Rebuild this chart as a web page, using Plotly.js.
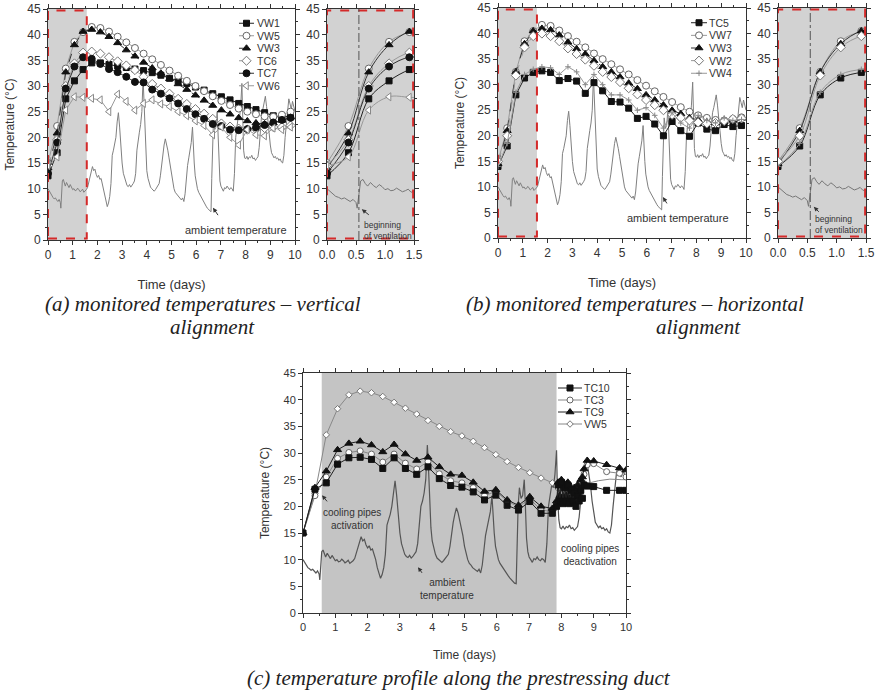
<!DOCTYPE html>
<html><head><meta charset="utf-8">
<script src="https://cdn.plot.ly/plotly-3.0.1.min.js"></script>
<style>html,body{margin:0;padding:0;background:#fff}#chart{width:877px;height:694px}</style>
</head><body><div id="chart"></div>
<script>
// ---------- DATA ----------
const tA = [0, 0.37, 0.72, 1.07, 1.42, 1.77, 2.12, 2.47, 2.82, 3.17, 3.52, 3.87, 4.22, 4.57, 4.92, 5.27, 5.62, 5.97, 6.32, 6.67, 7.02, 7.37, 7.72, 8.07, 8.42, 8.77, 9.12, 9.47, 9.82];
// panel (a)
const VW1 = [12.5, 17, 27.5, 31, 33.2, 34.5, 34.5, 34.2, 33.9, 33.6, 33.3, 33.0, 32.6, 32.1, 31.5, 31.0, 30.5, 29.8, 29.2, 28.5, 27.9, 27.3, 26.6, 26.0, 25.4, 24.8, 24.2, 23.8, 24.3];
const VW5 = [15, 22.2, 33.4, 38.6, 40.5, 41.5, 41.3, 40.6, 39.6, 38.5, 37.4, 36.3, 35.2, 34.1, 33.0, 32.0, 31.0, 30.0, 29.0, 28.0, 27.1, 26.3, 25.6, 25.0, 24.5, 24.1, 24.0, 24.4, 25.0];
const VW3 = [14, 20.8, 32.7, 38, 40.6, 41.0, 40.5, 39.6, 38.4, 37.0, 35.8, 34.6, 33.5, 32.5, 31.4, 30.4, 29.3, 28.2, 27.2, 26.2, 25.3, 24.5, 23.8, 23.2, 22.8, 22.6, 22.8, 23.3, 23.9];
const TC6 = [14.5, 19.5, 30.0, 34.4, 36.5, 36.7, 36.3, 35.6, 34.8, 34.0, 33.1, 31.8, 30.4, 29.5, 28.5, 27.5, 26.5, 25.5, 24.6, 23.6, 22.7, 22.1, 21.7, 21.5, 21.6, 21.8, 22.0, 22.0, 22.3];
const TC7 = [13, 19, 29.5, 33.8, 35.6, 35.3, 34.3, 33.3, 32.7, 31.8, 30.8, 30.7, 29.3, 28.5, 27.6, 26.6, 25.5, 24.5, 23.6, 22.6, 22.2, 21.5, 21.4, 21.6, 21.9, 22.4, 22.9, 23.4, 23.8];
const VW6 = [14.5, 16.2, 25.3, 27.9, 27.8, 27.6, 27.3, 25.0, 28.4, 27.0, 25.3, 26.6, 27.3, 26.5, 26.0, 25.0, 24.2, 23.2, 22.3, 20.5, 22.0, 20.0, 18.5, 21.5, 20.5, 20.3, 21.8, 21.5, 22.0];
// panel (b)
const TC5 = [14, 18, 28, 31.3, 32.4, 32.7, 32.4, 30.8, 31.2, 30.7, 28.3, 30.4, 28.8, 26.7, 26.6, 25.4, 23.4, 23.8, 22.3, 20.0, 22.8, 21.0, 19.9, 22.5, 21.3, 21.0, 22.2, 21.8, 22.0];
const VW7 = [15, 21.5, 32.5, 38.5, 40.5, 41.7, 41.5, 40.6, 39.5, 38.4, 37.3, 36.1, 35.0, 34.0, 33.0, 32.0, 30.9, 29.8, 28.7, 27.6, 26.6, 25.6, 24.7, 24.0, 23.5, 23.1, 23.0, 23.3, 23.6];
const VW3b = [14.5, 21, 32.5, 38, 40.5, 41.0, 40.7, 39.7, 38.3, 37.0, 36.0, 34.7, 33.5, 32.5, 31.5, 30.3, 29.2, 28.0, 27.0, 26.0, 25.0, 24.3, 23.5, 23.1, 22.7, 22.5, 22.8, 23.0, 23.4];
const VW2 = [15, 20, 31.8, 37.3, 39.5, 40.0, 39.5, 38.5, 37.1, 36.0, 34.9, 33.7, 32.5, 31.5, 30.5, 29.3, 28.1, 27.0, 26.0, 25.0, 24.1, 23.5, 23.0, 22.6, 22.4, 22.5, 22.9, 23.3, 23.4];
const VW4 = [14, 18.5, 28.5, 32, 33, 33.5, 33.3, 32.0, 33.5, 32.5, 30.0, 32.0, 30.0, 28.0, 28.0, 27.0, 25.0, 25.5, 24.0, 21.5, 24.5, 22.5, 21.5, 24.0, 23.0, 22.5, 23.5, 23.0, 23.2];
// panel (c)
const tC = [0, 0.37, 0.72, 1.07, 1.42, 1.77, 2.12, 2.47, 2.82, 3.17, 3.52, 3.87, 4.22, 4.57, 4.92, 5.27, 5.62, 5.97, 6.32, 6.67, 7.02, 7.37, 7.72];
const tCtail = [7.85, 7.9, 7.95, 8.0, 8.05, 8.1, 8.15, 8.2, 8.25, 8.3, 8.35, 8.4, 8.45, 8.5, 8.55, 8.6, 8.65, 8.7, 8.8, 9.0, 9.4, 9.8, 10.0];
const TC10 = [15, 23.2, 24.4, 27.9, 29.1, 29.2, 28.8, 27.1, 29.1, 27.1, 26.0, 27.4, 25.2, 23.9, 23.6, 22.7, 21.2, 22.1, 20.2, 19.3, 20.9, 18.7, 18.7];
const TC10tail = [20, 24, 21, 24.5, 20.5, 23.5, 21, 24, 20.5, 23, 21, 22.5, 20, 22, 21, 23, 21.5, 24, 23.8, 23.7, 23.0, 23.0, 23.0];
const TC3 = [15, 22.0, 25.5, 29.0, 30.1, 30.4, 29.8, 28.3, 29.8, 28.1, 27.0, 28.4, 26.1, 24.8, 24.4, 23.5, 22.0, 22.8, 21.0, 19.9, 21.4, 19.3, 19.0];
const TC3tail = [20.5, 23.5, 21, 24, 21, 23, 21.5, 23.5, 21, 22.5, 21.5, 22, 21.5, 23, 22.5, 24, 24.5, 26, 27.8, 28, 26.5, 26.2, 25.5];
const TC9 = [15, 23.5, 26.6, 30.6, 31.8, 32.2, 31.5, 30.2, 31.6, 29.8, 28.6, 29.2, 27.4, 26.0, 25.8, 24.5, 22.8, 23.1, 21.2, 20.2, 21.8, 20.0, 19.6];
const TC9tail = [21, 24.5, 22, 25, 21.5, 24, 22, 24.5, 21.5, 23.5, 22, 23.5, 22, 24, 23, 25, 25.5, 27, 28.6, 28.5, 27.8, 27.2, 26.8];
const VW5c = [15, 22.4, 33.4, 38.3, 40.9, 41.6, 41.3, 40.6, 39.5, 38.4, 37.3, 36.1, 35.0, 34.0, 33.2, 32.2, 31.0, 29.7, 28.4, 27.3, 26.3, 25.3, 24.4];
const tVtail = [7.72, 8.1, 8.45, 8.8, 9.15, 9.5, 9.85, 10.0];
const VW5ctail = [24.4, 24.0, 24.0, 24.3, 24.8, 25.1, 25.0, 25.0];
// ambient temperature
const tAmb = [0,0.05,0.1,0.15,0.2,0.25,0.3,0.35,0.4,0.45,0.5,0.52,0.55,0.58,0.62,0.66,0.7,0.75,0.8,0.85,0.9,0.95,1.0,1.05,1.1,1.15,1.2,1.25,1.3,1.35,1.4,1.45,1.5,1.55,1.6,1.65,1.7,1.75,1.8,1.85,1.9,1.95,2.0,2.05,2.1,2.15,2.2,2.25,2.3,2.35,2.4,2.45,2.5,2.55,2.6,2.65,2.7,2.75,2.8,2.85,2.9,2.95,3.0,3.05,3.1,3.15,3.2,3.25,3.3,3.35,3.4,3.45,3.5,3.55,3.6,3.65,3.7,3.75,3.8,3.85,3.88,3.92,3.96,4.0,4.05,4.1,4.15,4.2,4.25,4.3,4.35,4.4,4.45,4.5,4.55,4.6,4.65,4.7,4.75,4.8,4.85,4.9,4.95,5.0,5.05,5.1,5.15,5.2,5.25,5.3,5.35,5.4,5.45,5.5,5.55,5.6,5.65,5.7,5.75,5.8,5.85,5.88,5.92,5.96,6.0,6.05,6.1,6.15,6.2,6.25,6.3,6.35,6.4,6.45,6.5,6.55,6.6,6.63,6.66,6.7,6.75,6.8,6.85,6.88,6.92,6.96,7.0,7.05,7.1,7.15,7.2,7.25,7.3,7.35,7.4,7.45,7.5,7.55,7.6,7.65,7.7,7.75,7.8,7.85,7.88,7.92,7.96,8.0,8.05,8.1,8.15,8.2,8.25,8.3,8.35,8.4,8.45,8.5,8.55,8.6,8.65,8.7,8.75,8.8,8.85,8.9,8.95,9.0,9.05,9.1,9.15,9.2,9.25,9.3,9.35,9.4,9.45,9.5,9.55,9.6,9.65,9.7,9.75,9.8,9.85,9.9,9.95,10.0];
const ambient = [10.0,9.5,9.0,8.5,8.3,8.0,8.2,7.8,7.5,7.9,7.3,6.2,8.5,11.5,11.8,11.0,10.5,11.2,10.6,10.2,10.8,10.4,9.8,10.0,9.6,9.7,10.1,9.8,9.4,9.6,9.9,9.3,9.5,9.8,10.2,11.2,12.5,13.2,14.3,13.5,13.8,12.8,12.2,12.6,11.8,12.0,11.0,10.0,8.5,7.5,6.5,7.2,8.5,11.0,16.5,17.5,18.5,20.0,23.0,24.8,22.0,18.0,15.0,13.0,12.0,11.0,10.6,10.4,10.8,10.3,10.6,11.0,11.5,13.0,17.5,20.0,21.0,22.5,25.0,31.5,28.0,20.0,16.0,13.5,12.0,11.0,10.3,10.0,9.8,9.5,9.8,10.2,10.5,11.0,12.5,15.0,17.0,18.5,19.7,18.8,17.5,16.0,14.5,12.5,11.0,10.0,9.3,9.0,8.5,8.3,8.0,7.8,8.2,7.5,9.0,12.5,14.5,16.0,17.5,19.0,22.0,18.0,15.0,12.5,11.0,10.0,9.3,8.8,8.3,7.8,7.5,7.0,6.6,6.2,5.9,5.6,5.5,12.0,20.0,23.5,21.5,22.0,25.0,21.0,14.0,11.5,10.5,10.0,9.5,10.2,10.0,10.5,10.0,9.8,10.2,10.0,9.5,13.0,20.0,22.0,24.0,23.5,26.0,30.5,22.0,17.5,16.0,15.8,16.3,15.7,16.2,16.0,16.5,15.8,16.0,15.5,15.9,16.2,18.0,22.0,24.5,25.5,27.0,28.0,26.0,24.0,21.0,18.5,17.0,16.5,16.0,16.3,15.8,16.0,15.5,15.8,15.2,15.0,16.5,20.0,23.0,26.0,27.5,26.5,25.5,27.0,26.0,25.0];
// legend labels
const legA = ['VW1','VW5','VW3','TC6','TC7','VW6'];
const legB = ['TC5','VW7','VW3','VW2','VW4'];
const legC = ['TC10','TC3','TC9','VW5'];

// ---------- STYLES ----------
const W = 877, H = 694;
const FONT = 'Liberation Sans, Arial, sans-serif';
const SERIF = 'Liberation Serif, Times New Roman, serif';
const AXC = '#333';
const BLK = {lc:'#222', dash:'solid', sym:'square', mc:'#111', ml:'#111', ms:6};
const ST = {
  VW1: BLK,
  VW5: {lc:'#999', dash:'solid', sym:'circle', mc:'#fff', ml:'#666', ms:7},
  VW3: {lc:'#333', dash:'dash', sym:'triangle-up', mc:'#111', ml:'#111', ms:7},
  TC6: {lc:'#999', dash:'dash', sym:'diamond', mc:'#fff', ml:'#777', ms:7},
  TC7: {lc:'#333', dash:'solid', sym:'circle', mc:'#111', ml:'#111', ms:7},
  VW6: {lc:'#999', dash:'solid', sym:'triangle-left', mc:'#fff', ml:'#888', ms:7},
  TC5: BLK,
  VW7: {lc:'#999', dash:'solid', sym:'circle', mc:'#fff', ml:'#666', ms:7},
  VW2: {lc:'#999', dash:'dash', sym:'diamond', mc:'#fff', ml:'#777', ms:7},
  VW4: {lc:'#999', dash:'solid', sym:'cross-thin-open', mc:'#888', ml:'#888', ms:4},
  TC10: BLK,
  TC3: {lc:'#888', dash:'solid', sym:'circle', mc:'#fff', ml:'#666', ms:6},
  TC9: {lc:'#222', dash:'solid', sym:'triangle-up', mc:'#111', ml:'#111', ms:7},
  VW5c: {lc:'#888', dash:'solid', sym:'diamond', mc:'#fff', ml:'#777', ms:5}
};
const ST_C = {TC10: ST.TC10, TC3: ST.TC3, TC9: ST.TC9, VW5: ST.VW5c};

function dx(a, b){ return [a / W, b / W]; }
function dy(top, bottom){ return [1 - bottom / H, 1 - top / H]; }

function series(x, y, s, xa, ya, shape, solid){
  return {x, y, type:'scatter', mode:'lines+markers', xaxis:xa, yaxis:ya, showlegend:false, hoverinfo:'skip',
    line:{color:s.lc, width:1, dash: solid ? 'solid' : s.dash, shape: shape || 'linear'},
    marker:{symbol:s.sym, size:s.ms, color:s.mc, line:{color:s.ml, width:1}}};
}
function amb(xa, ya, color, width){
  return {x:tAmb, y:ambient, type:'scatter', mode:'lines', xaxis:xa, yaxis:ya, showlegend:false, hoverinfo:'skip',
    line:{color:color, width:width}};
}

const traces = [];
// (a) main
traces.push(amb('x','y','#808080',1));
const A = {VW1, VW5, VW3, TC6, TC7, VW6};
for (const k of Object.keys(A)) traces.push(series(tA, A[k], ST[k], 'x', 'y'));
// (a) inset
traces.push(amb('x2','y2','#777',1));
for (const k of Object.keys(A)) traces.push(series(tA, A[k], ST[k], 'x2', 'y2', 'spline', true));
// (b) main
traces.push(amb('x3','y3','#808080',1));
const B = {TC5, VW7, VW3: VW3b, VW2, VW4};
for (const k of Object.keys(B)) traces.push(series(tA, B[k], ST[k], 'x3', 'y3'));
// (b) inset
traces.push(amb('x4','y4','#777',1));
for (const k of Object.keys(B)) traces.push(series(tA, B[k], ST[k], 'x4', 'y4', 'spline', true));
// (c)
traces.push(amb('x5','y5','#555',1.2));
traces.push({x:tVtail, y:VW5ctail, type:'scatter', mode:'lines', xaxis:'x5', yaxis:'y5', showlegend:false, hoverinfo:'skip', line:{color:'#888', width:1}});
traces.push(series(tC, VW5c, ST.VW5c, 'x5', 'y5'));
traces.push(series(tC.concat(tCtail), TC3.concat(TC3tail), ST.TC3, 'x5', 'y5'));
traces.push(series(tC.concat(tCtail), TC9.concat(TC9tail), ST.TC9, 'x5', 'y5'));
traces.push(series(tC.concat(tCtail), TC10.concat(TC10tail), ST.TC10, 'x5', 'y5'));

// legends: symbols on hidden helper axes, text in paper coordinates
const annotations = [];
function legend(names, styles, xa, ya, textPx, topPx, step, fsize){
  names.forEach((n, i) => {
    const s = styles[n];
    traces.push({x:[0,1], y:[i,i], type:'scatter', mode:'lines', xaxis:xa, yaxis:ya, showlegend:false, hoverinfo:'skip',
      line:{color:s.lc, width:1, dash:s.dash}});
    traces.push({x:[0.5], y:[i], type:'scatter', mode:'markers', xaxis:xa, yaxis:ya, showlegend:false, hoverinfo:'skip',
      marker:{symbol:s.sym, size:s.ms, color:s.mc, line:{color:s.ml, width:1}}});
    const ypx = topPx + (i + 0.5) * step;
    annotations.push({x:textPx / W, y:1 - ypx / H, xref:'paper', yref:'paper', text:n, showarrow:false,
      xanchor:'left', yanchor:'middle', font:{family:FONT, size:fsize, color:'#333'}});
  });
}
legend(legA, ST, 'x6', 'y6', 255, 17, 12.5, 10.5);
legend(legB, ST, 'x7', 'y7', 707, 16.4, 12.64, 10.5);
legend(legC, ST_C, 'x8', 'y8', 582, 382, 12, 10.5);

// ---------- LAYOUT ----------
function axis(domain, range, dtick, minor, anchor, opts){
  return Object.assign({domain, range, dtick, tick0:0, anchor, showline:true, linecolor:AXC, linewidth:1, mirror:'ticks',
    ticks:'outside', ticklen:4, tickcolor:AXC, showgrid:false, zeroline:false, fixedrange:true,
    tickfont:{family:FONT, size:12, color:'#333'},
    minor:{dtick:minor, ticks:'outside', ticklen:2, tickcolor:AXC, showgrid:false}}, opts || {});
}
const tx = (t, s) => ({text:t, font:{family:FONT, size:s, color:'#333'}});
const hidden = (domain, range, anchor) => ({domain, range, anchor, visible:false, fixedrange:true});

const layout = {
  width:W, height:H, margin:{l:0, r:0, t:0, b:0}, paper_bgcolor:'#fff', plot_bgcolor:'rgba(0,0,0,0)', showlegend:false,
  xaxis: axis(dx(48,295), [0,10], 1, 0.5, 'y', {title:tx('Time (days)',13)}),
  yaxis: axis(dy(9,240), [0,45], 5, 2.5, 'x', {title:tx('Temperature (°C)',12)}),
  xaxis2: axis(dx(327,414), [0,1.5], 0.5, 0.25, 'y2', {tickformat:'.1f'}),
  yaxis2: axis(dy(9,240), [0,45], 5, 2.5, 'x2'),
  xaxis3: axis(dx(498,746), [0,10], 1, 0.5, 'y3', {title:tx('Time (days)',13)}),
  yaxis3: axis(dy(8,238), [0,45], 5, 2.5, 'x3', {title:tx('Temperature (°C)',12)}),
  xaxis4: axis(dx(778,866), [0,1.5], 0.5, 0.25, 'y4', {tickformat:'.1f'}),
  yaxis4: axis(dy(8,238), [0,45], 5, 2.5, 'x4'),
  xaxis5: axis(dx(303,626), [0,10], 1, 0.5, 'y5', {title:tx('Time (days)',12), tickfont:{family:FONT,size:11,color:'#333'}}),
  yaxis5: axis(dy(373,613), [0,45], 5, 2.5, 'x5', {title:tx('Temperature (°C)',12), tickfont:{family:FONT,size:11,color:'#333'}}),
  xaxis6: hidden(dx(239,254), [0,1], 'y6'), yaxis6: hidden(dy(17,92), [5.5,-0.5], 'x6'),
  xaxis7: hidden(dx(691,707), [0,1], 'y7'), yaxis7: hidden(dy(16.4,79.6), [4.5,-0.5], 'x7'),
  xaxis8: hidden(dx(558,582), [0,1], 'y8'), yaxis8: hidden(dy(382,430), [3.5,-0.5], 'x8'),
  shapes: [],
  annotations: annotations
};

const GRAY = '#d2d2d2', RED = '#d42a2a';
function shadeBox(xr, yr, x0, x1, redX1){
  layout.shapes.push({type:'rect', xref:xr, yref:yr, x0, x1, y0:0, y1:45, layer:'below', fillcolor:GRAY, line:{width:0}});
  layout.shapes.push({type:'rect', xref:xr, yref:yr, x0, x1:redX1, y0:0.3, y1:44.7, layer:'above', fillcolor:'rgba(0,0,0,0)', line:{color:RED, width:2, dash:'dash'}});
}
shadeBox('x','y',0,1.57,1.57);
shadeBox('x2','y2',0,1.5,1.485);
shadeBox('x3','y3',0,1.57,1.57);
shadeBox('x4','y4',0,1.5,1.485);
layout.shapes.push({type:'rect', xref:'x5', yref:'y5', x0:0.58, x1:7.85, y0:0, y1:45, layer:'below', fillcolor:'#c4c4c4', line:{width:0}});
for (const [xr, yr] of [['x2','y2'],['x4','y4']]) {
  layout.shapes.push({type:'line', xref:xr, yref:yr, x0:0.55, x1:0.55, y0:0, y1:45, layer:'above', line:{color:'#555', width:1, dash:'dashdot'}});
}

// text labels and arrows
function arrow(x, y, xr, yr, ax, ay){
  annotations.push({x, y, xref:xr, yref:yr, showarrow:true, ax, ay, arrowhead:2, arrowsize:0.9, arrowwidth:1, arrowcolor:'#333'});
}
function label(x, y, xr, yr, text, size, xanchor, align){
  annotations.push({x, y, xref:xr, yref:yr, text, showarrow:false, xanchor:xanchor || 'center', yanchor:'middle', align:align || 'center',
    font:{family:FONT, size, color:'#333'}});
}
label(7.61, 1.95, 'x', 'y', 'ambient temperature', 11);
arrow(6.68, 6.3, 'x', 'y', 8, 12);
label(0.6, 1.9, 'x2', 'y2', 'beginning<br>of ventilation', 8.5, 'left', 'left');
arrow(0.6, 6.0, 'x2', 'y2', 10, 8);
label(7.26, 3.9, 'x3', 'y3', 'ambient temperature', 11);
arrow(6.65, 8.0, 'x3', 'y3', 7, 11);
label(0.6, 2.7, 'x4', 'y4', 'beginning<br>of ventilation', 8.5, 'left', 'left');
arrow(0.61, 6.1, 'x4', 'y4', 8, 8);
label(1.52, 17.6, 'x5', 'y5', 'cooling pipes<br>activation', 10);
arrow(0.59, 22.1, 'x5', 'y5', 8, 10);
label(4.46, 4.5, 'x5', 'y5', 'ambient<br>temperature', 10);
arrow(3.56, 8.6, 'x5', 'y5', 7, 10);
label(8.89, 10.9, 'x5', 'y5', 'cooling pipes<br>deactivation', 10);
arrow(7.83, 15.6, 'x5', 'y5', 6, 13);

// captions
function caption(xpx, ypx, text){
  annotations.push({x:xpx / W, y:1 - ypx / H, xref:'paper', yref:'paper', text:'<i>' + text + '</i>', showarrow:false,
    xanchor:'center', yanchor:'middle', font:{family:SERIF, size:21, color:'#222'}});
}
caption(203, 304, '(a) monitored temperatures – vertical');
caption(212, 327, 'alignment');
caption(635, 304, '(b) monitored temperatures – horizontal');
caption(698, 327, 'alignment');
caption(459, 678, '(c) temperature profile along the prestressing duct');

Plotly.newPlot('chart', traces, layout, {staticPlot:true, displayModeBar:false});
</script>
</body></html>
